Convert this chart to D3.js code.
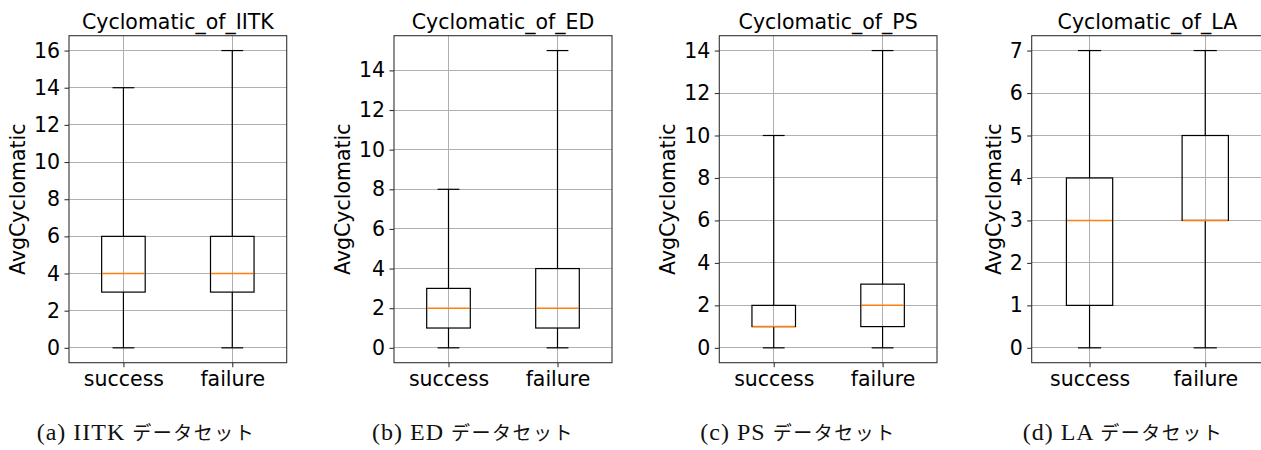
<!DOCTYPE html>
<html>
<head>
<meta charset="utf-8">
<script src="https://cdn.jsdelivr.net/npm/d3@7"></script>
<style>
  body { margin: 0; background: #fff; }
  svg { display: block; }
</style>
</head>
<body>
<script>
// data
const categories = ["success", "failure"];
const datasets = ["IITK", "ED", "PS", "LA"];
const captionLetters = ["a", "b", "c", "d"];

// [lower whisker, q1, median, q3, upper whisker] for success, failure
const iitkBoxes = [[0, 3, 4, 6, 14], [0, 3, 4, 6, 16]];
const edBoxes = [[0, 1, 2, 3, 8], [0, 1, 2, 4, 15]];
const psBoxes = [[0, 1, 1, 2, 10], [0, 1, 2, 3, 14]];
const laBoxes = [[0, 1, 3, 4, 7], [0, 3, 3, 5, 7]];

const iitkTicks = [0, 2, 4, 6, 8, 10, 12, 14, 16];
const edTicks = [0, 2, 4, 6, 8, 10, 12, 14];
const psTicks = [0, 2, 4, 6, 8, 10, 12, 14];
const laTicks = [0, 1, 2, 3, 4, 5, 6, 7];

const allBoxes = [iitkBoxes, edBoxes, psBoxes, laBoxes];
const allTicks = [iitkTicks, edTicks, psTicks, laTicks];

// layout
const W = 1261, H = 450;
const axTop = 35.7, axBottom = 362.7;
const panels = [
    {left: 69, width: 217.7, capX: 146},
    {left: 394, width: 218, capX: 473},
    {left: 719.3, width: 217.7, capX: 798},
    {left: 1031.7, width: 231.4, capX: 1123}
];
const sans = "'DejaVu Sans', sans-serif";
const fontSize = 20.5;
const tickLen = 4.5, tickPad = 4.5;

const svg = d3.select("body").append("svg")
    .attr("width", W)
    .attr("height", H)
    .attr("viewBox", `0 0 ${W} ${H}`);

panels.forEach((p, k) => {
    const boxes = allBoxes[k];
    const ticks = allTicks[k];
    const right = p.left + p.width;

    const x = d3.scaleLinear().domain([0.5, 2.5]).range([p.left, right]);
    const [lo, hi] = d3.extent(boxes.flat());
    const pad = (hi - lo) * 0.05;
    const y = d3.scaleLinear().domain([lo - pad, hi + pad]).range([axBottom, axTop]);

    const g = svg.append("g");

    // grid
    const grid = g.append("g")
        .attr("stroke", "#b0b0b0")
        .attr("stroke-width", 1)
        .attr("shape-rendering", "crispEdges");
    grid.selectAll("line.h")
        .data(ticks)
        .join("line")
        .attr("class", "h")
        .attr("x1", p.left).attr("x2", right)
        .attr("y1", d => y(d)).attr("y2", d => y(d));
    grid.selectAll("line.v")
        .data(categories)
        .join("line")
        .attr("class", "v")
        .attr("x1", (d, i) => x(i + 1)).attr("x2", (d, i) => x(i + 1))
        .attr("y1", axTop).attr("y2", axBottom);

    // boxes
    const halfBox = x(1.2) - x(1);
    const halfCap = x(1.1) - x(1);
    const bx = g.selectAll("g.box")
        .data(boxes)
        .join("g")
        .attr("class", "box")
        .attr("stroke", "#000")
        .attr("stroke-width", 1.2)
        .attr("fill", "none");

    bx.append("line")
        .attr("x1", (d, i) => x(i + 1)).attr("x2", (d, i) => x(i + 1))
        .attr("y1", d => y(d[3])).attr("y2", d => y(d[4]));
    bx.append("line")
        .attr("x1", (d, i) => x(i + 1)).attr("x2", (d, i) => x(i + 1))
        .attr("y1", d => y(d[1])).attr("y2", d => y(d[0]));
    bx.append("line")
        .attr("x1", (d, i) => x(i + 1) - halfCap).attr("x2", (d, i) => x(i + 1) + halfCap)
        .attr("y1", d => y(d[4])).attr("y2", d => y(d[4]));
    bx.append("line")
        .attr("x1", (d, i) => x(i + 1) - halfCap).attr("x2", (d, i) => x(i + 1) + halfCap)
        .attr("y1", d => y(d[0])).attr("y2", d => y(d[0]));
    bx.append("rect")
        .attr("x", (d, i) => x(i + 1) - halfBox)
        .attr("width", 2 * halfBox)
        .attr("y", d => y(d[3]))
        .attr("height", d => y(d[1]) - y(d[3]));
    bx.append("line")
        .attr("stroke", "#ff7f0e")
        .attr("stroke-width", 1.5)
        .attr("x1", (d, i) => x(i + 1) - halfBox + 0.6).attr("x2", (d, i) => x(i + 1) + halfBox - 0.6)
        .attr("y1", d => y(d[2])).attr("y2", d => y(d[2]));

    // spines
    g.append("rect")
        .attr("x", p.left).attr("y", axTop)
        .attr("width", p.width).attr("height", axBottom - axTop)
        .attr("fill", "none")
        .attr("stroke", "#333")
        .attr("stroke-width", 1.1);

    // axes
    const yAxis = g.append("g")
        .attr("transform", `translate(${p.left},0)`)
        .call(d3.axisLeft(y).tickValues(ticks).tickSize(tickLen).tickPadding(tickPad).tickFormat(d3.format("d")));
    const xAxis = g.append("g")
        .attr("transform", `translate(0,${axBottom})`)
        .call(d3.axisBottom(x).tickValues([1, 2]).tickSize(tickLen).tickPadding(tickPad)
            .tickFormat((d, i) => categories[i]));
    [yAxis, xAxis].forEach(a => {
        a.select(".domain").remove();
        a.attr("font-family", sans).attr("font-size", fontSize);
        a.selectAll(".tick line").attr("stroke", "#333").attr("stroke-width", 1.1);
        a.selectAll(".tick text").attr("fill", "#000");
    });

    let maxW = 0;
    yAxis.selectAll(".tick text").each(function () {
        maxW = Math.max(maxW, this.getComputedTextLength());
    });

    // y label
    const lx = p.left - tickLen - tickPad - maxW - 9;
    g.append("text")
        .attr("transform", `translate(${lx},${(axTop + axBottom) / 2}) rotate(-90)`)
        .attr("text-anchor", "middle")
        .attr("font-family", sans)
        .attr("font-size", fontSize)
        .text("AvgCyclomatic");

    // title
    g.append("text")
        .attr("x", (p.left + right) / 2)
        .attr("y", 29)
        .attr("text-anchor", "middle")
        .attr("font-family", sans)
        .attr("font-size", fontSize)
        .text(`Cyclomatic_of_${datasets[k]}`);

    // caption
    const cap = svg.append("text")
        .attr("x", p.capX)
        .attr("y", 440)
        .attr("text-anchor", "middle")
        .attr("fill", "#111");
    cap.append("tspan")
        .attr("font-family", "'Liberation Serif', serif")
        .attr("font-size", 24)
        .attr("letter-spacing", 1)
        .text(`(${captionLetters[k]}) ${datasets[k]} `);
    cap.append("tspan")
        .attr("font-family", "'Noto Sans CJK JP', sans-serif")
        .attr("font-size", 19)
        .attr("letter-spacing", 1.5)
        .text("データセット");
});
</script>
</body>
</html>
